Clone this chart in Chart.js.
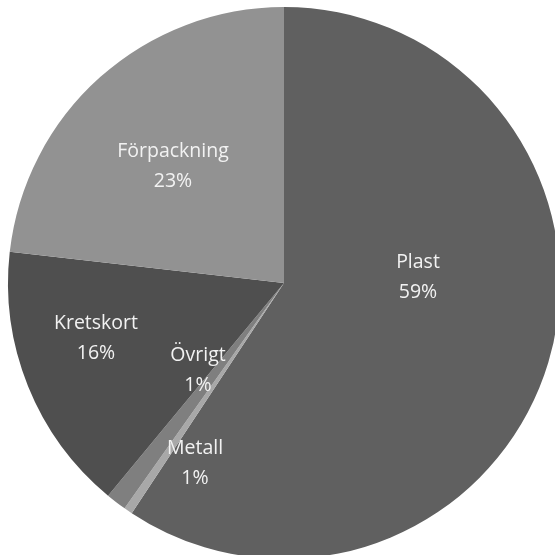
<!DOCTYPE html>
<html>
<head>
<meta charset="utf-8">
<script src="https://cdn.jsdelivr.net/npm/chart.js@4.4.1/dist/chart.umd.min.js"></script>
<style>
  html, body { margin: 0; padding: 0; background: #fff; overflow: hidden; }
  #wrap { position: absolute; left: 0; top: 0; width: 568px; height: 566px; }
</style>
</head>
<body>
<div id="wrap"><canvas id="chart"></canvas></div>
<script>
// Data (share of weight, %)
const categories = ['Plast', 'Metall', 'Övrigt', 'Kretskort', 'Förpackning'];
const shares = [59.3, 0.5, 1.2, 15.8, 23.2];
const shownPercent = ['59%', '1%', '1%', '16%', '23%'];
const sliceColors = ['#606060', '#a8a8a8', '#7f7f7f', '#4f4f4f', '#929292'];

// label anchors, offset from the pie centre (px)
const labelOffsets = [[134, -6], [-89, 180], [-86, 87], [-188, 55], [-111, -117]];

const labelPlugin = {
    id: 'sliceLabels',
    afterDatasetsDraw(chart) {
        const ctx = chart.ctx;
        const arc = chart.getDatasetMeta(0).data[0];
        const cx = arc.x, cy = arc.y;
        ctx.save();
        ctx.font = '19.5px "Open Sans", sans-serif';
        ctx.fillStyle = '#f2f2f2';
        ctx.textAlign = 'center';
        ctx.textBaseline = 'middle';
        categories.forEach((name, i) => {
            const [dx, dy] = labelOffsets[i];
            ctx.fillText(name, cx + dx, cy + dy - 15);
            ctx.fillText(shownPercent[i], cx + dx, cy + dy + 15);
        });
        ctx.restore();
    }
};

new Chart(document.getElementById('chart'), {
    type: 'pie',
    data: {
        labels: categories,
        datasets: [{
            data: shares,
            backgroundColor: sliceColors,
            borderWidth: 0
        }]
    },
    options: {
        responsive: true,
        maintainAspectRatio: false,
        animation: false,
        layout: { padding: 7 },
        plugins: {
            legend: { display: false },
            tooltip: { enabled: false }
        }
    },
    plugins: [labelPlugin]
});
</script>
</body>
</html>
